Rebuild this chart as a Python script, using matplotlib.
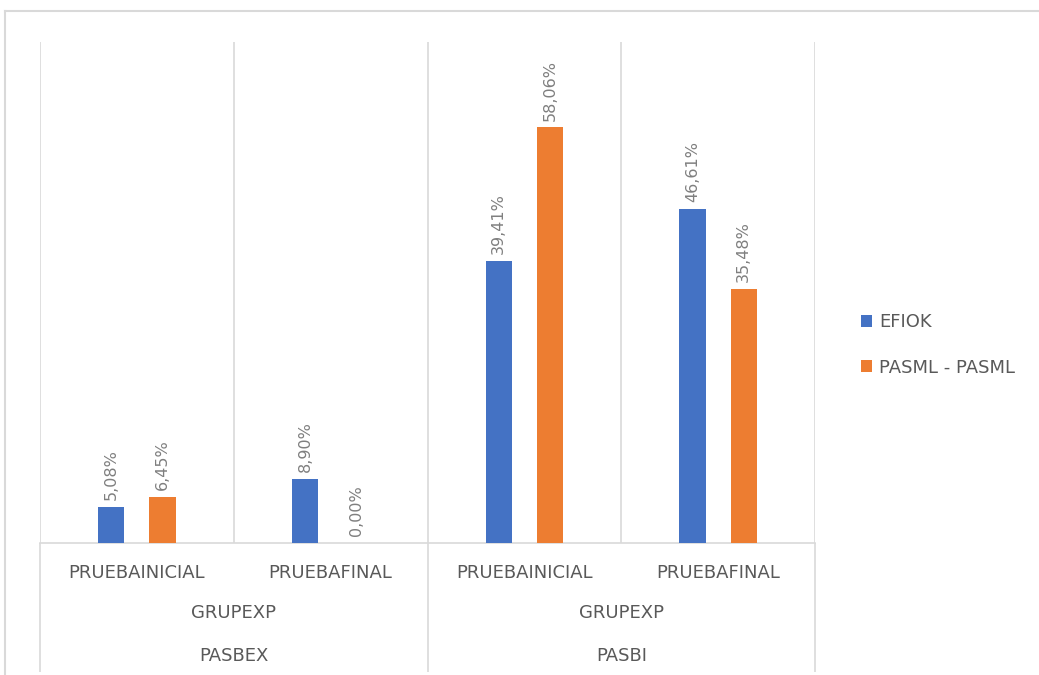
import matplotlib.pyplot as plt
from matplotlib.patches import Rectangle
import matplotlib.transforms as mtransforms

# data
pruebas = ["PRUEBAINICIAL", "PRUEBAFINAL", "PRUEBAINICIAL", "PRUEBAFINAL"]
grupos = ["GRUPEXP", "GRUPEXP"]
pasos = ["PASBEX", "PASBI"]
efiok = [5.08, 8.90, 39.41, 46.61]
pasml = [6.45, 0.00, 58.06, 35.48]

blue = "#4472C4"
orange = "#ED7D31"
grid = "#d9d9d9"
txt = "#595959"

fig = plt.figure(figsize=(10.39, 6.75), dpi=100)
ax = fig.add_axes([40 / 1039, 132 / 675, 775 / 1039, 501 / 675])

# outer chart frame (cut off at right and bottom like the screenshot)
fig.add_artist(plt.Line2D([5 / 1039, 1], [1 - 11 / 675, 1 - 11 / 675],
                          color=grid, lw=1.5, transform=fig.transFigure))
fig.add_artist(plt.Line2D([5 / 1039, 5 / 1039], [0, 1 - 11 / 675],
                          color=grid, lw=1.5, transform=fig.transFigure))

x = list(range(len(pruebas)))
w = 0.135
off = 0.132
b1 = ax.bar([i - off for i in x], efiok, w, color=blue, label="EFIOK", zorder=3)
b2 = ax.bar([i + off for i in x], pasml, w, color=orange, label="PASML - PASML", zorder=3)

for bars, vals in ((b1, efiok), (b2, pasml)):
    for r, v in zip(bars, vals):
        ax.annotate(f"{v:.2f}%".replace(".", ","),
                    (r.get_x() + r.get_width() / 2, v),
                    xytext=(0, 5), textcoords="offset points",
                    rotation=90, ha="center", va="bottom",
                    fontsize=11.5, color="#7f7f7f")

ax.set_xlim(-0.5, 3.5)
ax.set_ylim(0, 70)
for s in ["top", "left", "right"]:
    ax.spines[s].set_visible(False)
ax.spines["bottom"].set_color(grid)
ax.spines["bottom"].set_linewidth(1.2)
ax.set_xticks([])
ax.set_yticks([])

tr = ax.get_xaxis_transform()
# dividers inside the plot
ax.vlines([-0.5, 0.5, 1.5, 2.5, 3.5], 0, 1, color=grid, lw=1.2, transform=tr, zorder=1)
# dividers through the label rows
ax.vlines([-0.5, 1.5, 3.5], -0.258, 0, color=grid, lw=1.2, transform=tr, clip_on=False)

for i, p in enumerate(pruebas):
    ax.text(i, -0.06, p, transform=tr, ha="center", va="center",
            fontsize=13, color=txt)
for j, (g, p) in enumerate(zip(grupos, pasos)):
    ax.text(2 * j + 0.5, -0.14, g, transform=tr, ha="center", va="center",
            fontsize=13, color=txt)
    ax.text(2 * j + 0.5, -0.226, p, transform=tr, ha="center", va="center",
            fontsize=13, color=txt)

leg = ax.legend(loc="center left", bbox_to_anchor=(845 / 1039, 1 - 345 / 675),
                bbox_transform=fig.transFigure, frameon=False, fontsize=13,
                handlelength=0.6, handleheight=0.6, handletextpad=0.4,
                labelspacing=1.5)
for t in leg.get_texts():
    t.set_color(txt)

fig.savefig("out.png", dpi=100)
